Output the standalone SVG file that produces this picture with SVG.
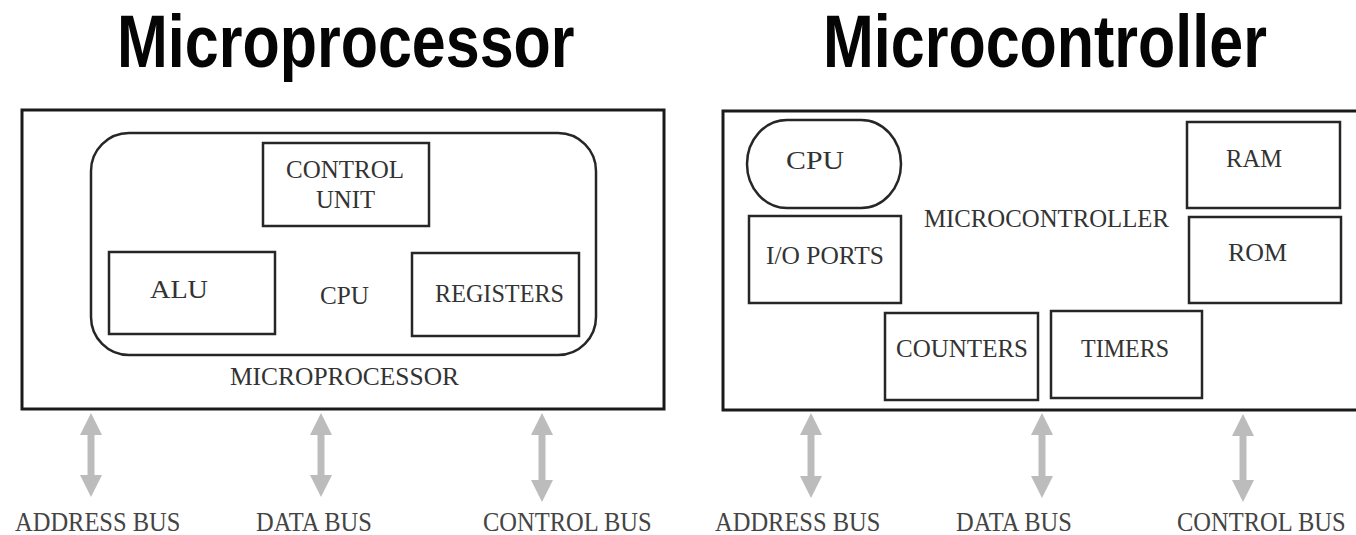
<svg xmlns="http://www.w3.org/2000/svg" width="1356" height="535" viewBox="0 0 1356 535">
  <defs>
    <style>
      .title { font-family: "Liberation Sans", Arial, sans-serif; font-weight: bold; font-size: 61px; fill: #050505; }
      .lbl { font-family: "Liberation Serif", "Times New Roman", serif; font-size: 26px; fill: #333; }
      .bus { font-family: "Liberation Serif", "Times New Roman", serif; font-size: 24.5px; fill: #444; }
      .outer { fill: none; stroke: #1a1a1a; stroke-width: 3; }
      .box { fill: none; stroke: #262626; stroke-width: 2.5; }
      .arrow { stroke: #bcbcbc; stroke-width: 7; fill: none; marker-start: url(#head); marker-end: url(#head); }
    </style>
    <marker id="head" viewBox="0 0 22 22" refX="0" refY="11" markerWidth="22" markerHeight="22" markerUnits="userSpaceOnUse" orient="auto-start-reverse">
      <path d="M0,0 L22,11 L0,22 z" fill="#bcbcbc"/>
    </marker>
  </defs>
  <rect width="1356" height="535" fill="#ffffff"/>

  <!-- headings, stretched vertically -->
  <text class="title" transform="translate(117,67) scale(1,1.2)">Microprocessor</text>
  <text class="title" transform="translate(823,67) scale(1,1.2)">Microcontroller</text>

  <!-- microprocessor block -->
  <g id="microprocessor">
    <rect class="outer" x="22" y="110" width="642" height="299"/>
    <text class="lbl" x="230" y="385" textLength="229" lengthAdjust="spacingAndGlyphs">MICROPROCESSOR</text>
  </g>
  <g id="cpu">
    <rect class="box" x="91" y="133" width="505" height="222" rx="38" ry="38"/>
    <text class="lbl" x="320" y="304" textLength="49" lengthAdjust="spacingAndGlyphs">CPU</text>
  </g>
  <g id="control-unit">
    <rect class="box" x="263" y="143" width="166" height="83"/>
    <text class="lbl" x="286" y="178" textLength="118" lengthAdjust="spacingAndGlyphs">CONTROL</text>
    <text class="lbl" x="316" y="208" textLength="59" lengthAdjust="spacingAndGlyphs">UNIT</text>
  </g>
  <g id="alu">
    <rect class="box" x="109" y="252" width="166" height="82"/>
    <text class="lbl" x="150" y="298" textLength="58" lengthAdjust="spacingAndGlyphs">ALU</text>
  </g>
  <g id="registers">
    <rect class="box" x="412" y="253" width="167" height="83"/>
    <text class="lbl" x="435" y="302" textLength="129" lengthAdjust="spacingAndGlyphs">REGISTERS</text>
  </g>

  <!-- microcontroller block (frame runs off the right edge) -->
  <g id="microcontroller">
    <path class="outer" d="M1358,111 H723 V410 H1358"/>
    <text class="lbl" x="924" y="227" textLength="245" lengthAdjust="spacingAndGlyphs">MICROCONTROLLER</text>
  </g>
  <g id="mc-cpu">
    <rect class="box" x="747" y="120" width="154" height="88" rx="40" ry="44"/>
    <text class="lbl" x="786" y="169" textLength="58" lengthAdjust="spacingAndGlyphs">CPU</text>
  </g>
  <g id="io-ports">
    <rect class="box" x="749" y="216" width="152" height="87"/>
    <text class="lbl" x="766" y="264" textLength="118" lengthAdjust="spacingAndGlyphs">I/O PORTS</text>
  </g>
  <g id="ram">
    <rect class="box" x="1187" y="122" width="153" height="86"/>
    <text class="lbl" x="1226" y="167" textLength="56" lengthAdjust="spacingAndGlyphs">RAM</text>
  </g>
  <g id="rom">
    <rect class="box" x="1189" y="217" width="152" height="86"/>
    <text class="lbl" x="1228" y="261" textLength="59" lengthAdjust="spacingAndGlyphs">ROM</text>
  </g>
  <g id="counters">
    <rect class="box" x="885" y="313" width="153" height="87"/>
    <text class="lbl" x="896" y="357" textLength="132" lengthAdjust="spacingAndGlyphs">COUNTERS</text>
  </g>
  <g id="timers">
    <rect class="box" x="1051" y="311" width="151" height="87"/>
    <text class="lbl" x="1081" y="357" textLength="88" lengthAdjust="spacingAndGlyphs">TIMERS</text>
  </g>

  <!-- bus connectors -->
  <g id="connectors">
    <line class="arrow" x1="91" y1="435" x2="91" y2="475"/>
    <line class="arrow" x1="321" y1="435" x2="321" y2="475"/>
    <line class="arrow" x1="542" y1="435" x2="542" y2="480"/>
    <line class="arrow" x1="811" y1="435" x2="811" y2="476"/>
    <line class="arrow" x1="1042" y1="435" x2="1042" y2="476"/>
    <line class="arrow" x1="1243" y1="436" x2="1243" y2="480"/>
  </g>

  <!-- bus labels, stretched vertically -->
  <g id="bus-labels">
    <text class="bus" transform="translate(15,531) scale(1,1.1)">ADDRESS BUS</text>
    <text class="bus" transform="translate(256,531) scale(1,1.1)">DATA BUS</text>
    <text class="bus" transform="translate(483,531) scale(1,1.1)">CONTROL BUS</text>
    <text class="bus" transform="translate(715,531) scale(1,1.1)">ADDRESS BUS</text>
    <text class="bus" transform="translate(956,531) scale(1,1.1)">DATA BUS</text>
    <text class="bus" transform="translate(1177,531) scale(1,1.1)">CONTROL BUS</text>
  </g>
</svg>
